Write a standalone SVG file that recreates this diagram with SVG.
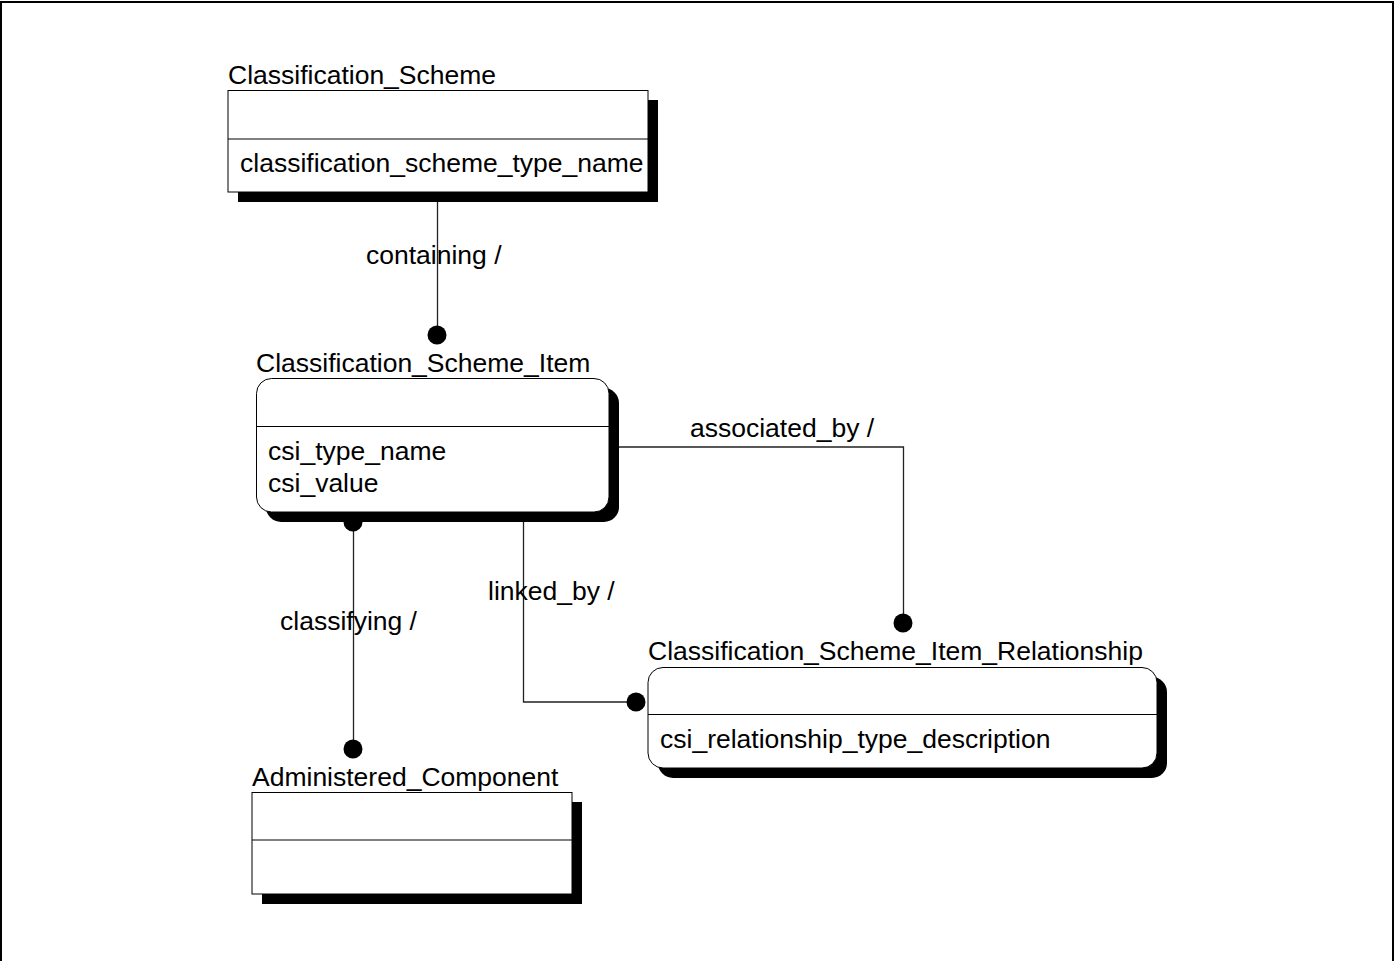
<svg xmlns="http://www.w3.org/2000/svg" width="1394" height="961" viewBox="0 0 1394 961">
  <style>
    text { font-family: "Liberation Sans", Arial, sans-serif; font-size: 26.5px; fill: #000; }
    .box { fill: #fff; stroke: #000; stroke-width: 1; }
    .shadow { fill: #000; }
    .div { stroke: #000; stroke-width: 1; }
    .conn { fill: none; stroke: #222; stroke-width: 1.3; }
    .dot { fill: #000; }
  </style>
  <rect x="0" y="0" width="1394" height="961" fill="#fff"/>
  <rect x="1" y="2" width="1392" height="966" fill="none" stroke="#000" stroke-width="2"/>

  <!-- relationship lines with filled-dot ends -->
  <g id="connectors">
    <path class="conn" d="M437.5 202 V335"/>
    <circle class="dot" cx="437" cy="335" r="9.5"/>
    <text x="366" y="264">containing /</text>

    <path class="conn" d="M353.5 522 V749"/>
    <circle class="dot" cx="353" cy="522" r="9.5"/>
    <circle class="dot" cx="353" cy="749" r="9.5"/>
    <text x="280" y="630">classifying /</text>

    <path class="conn" d="M523.5 522 V702 H636"/>
    <circle class="dot" cx="636" cy="702" r="9.5"/>
    <text x="488" y="600">linked_by /</text>

    <path class="conn" d="M619 447 H903.5 V623"/>
    <circle class="dot" cx="903" cy="623" r="9.5"/>
    <text x="690" y="437">associated_by /</text>
  </g>

  <g id="classification_scheme">
    <rect class="shadow" x="238" y="100" width="420" height="102"/>
    <rect class="box" x="228" y="90.5" width="420" height="101.5"/>
    <line class="div" x1="228" y1="139" x2="648" y2="139"/>
    <text x="228" y="84">Classification_Scheme</text>
    <text x="240" y="172">classification_scheme_type_name</text>
  </g>

  <g id="classification_scheme_item">
    <rect class="shadow" x="266" y="388" width="353" height="134" rx="15"/>
    <rect class="box" x="256.5" y="378.5" width="352.5" height="133.5" rx="15"/>
    <line class="div" x1="256.5" y1="426.5" x2="609" y2="426.5"/>
    <text x="256" y="372">Classification_Scheme_Item</text>
    <text x="268" y="460">csi_type_name</text>
    <text x="268" y="492">csi_value</text>
  </g>

  <g id="classification_scheme_item_relationship">
    <rect class="shadow" x="658" y="677" width="509" height="101" rx="15"/>
    <rect class="box" x="648" y="667.5" width="509" height="100.5" rx="15"/>
    <line class="div" x1="648" y1="714.5" x2="1157" y2="714.5"/>
    <text x="648" y="660">Classification_Scheme_Item_Relationship</text>
    <text x="660" y="748">csi_relationship_type_description</text>
  </g>

  <g id="administered_component">
    <rect class="shadow" x="262" y="802" width="320" height="102"/>
    <rect class="box" x="252" y="792.5" width="320" height="101.5"/>
    <line class="div" x1="252" y1="840" x2="572" y2="840"/>
    <text x="252" y="786">Administered_Component</text>
  </g>
</svg>
